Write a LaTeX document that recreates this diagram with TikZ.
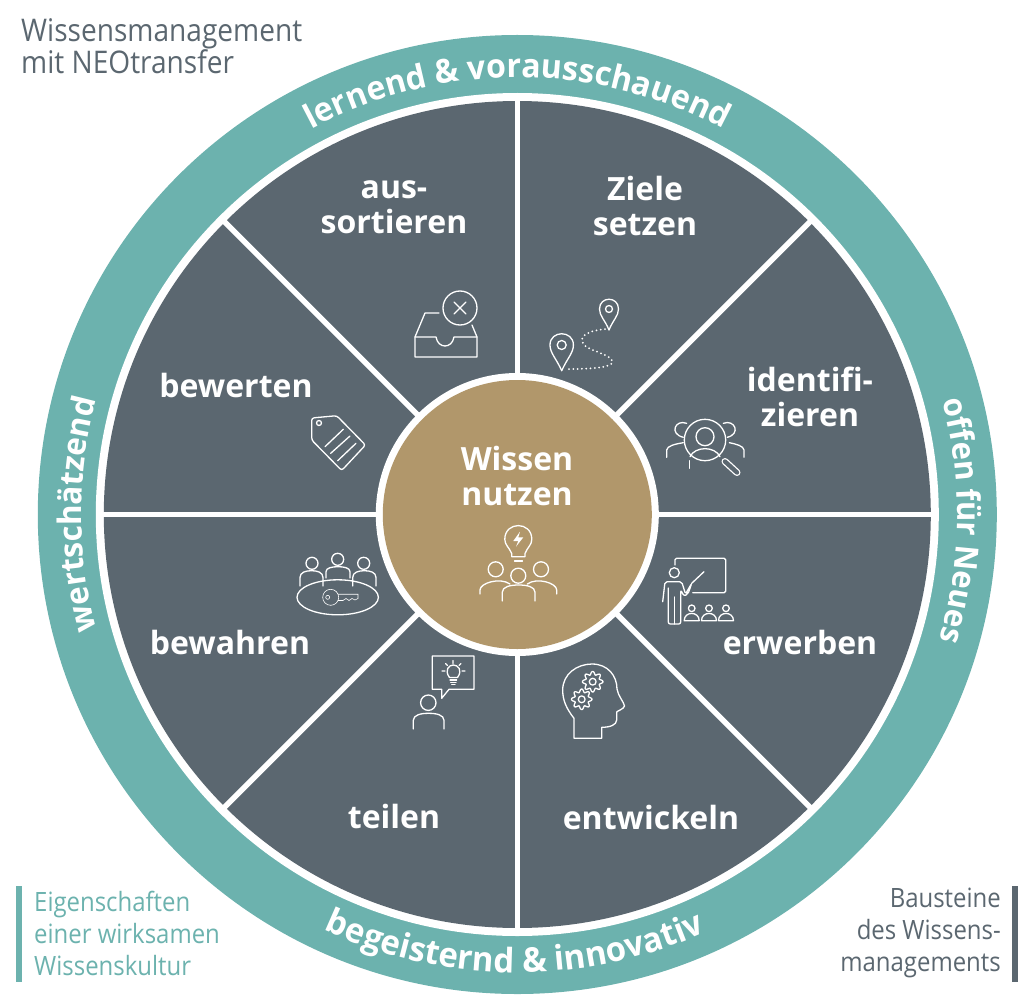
\documentclass[tikz,border=0pt]{standalone}
\usepackage{fontspec}
\setmainfont{Open Sans}
\newfontfamily\cornerfamily{Open Sans}[FakeStretch=0.9]
\newfontfamily\ringfamily{Open Sans}[FakeStretch=0.97]
\usetikzlibrary{decorations.text}

\definecolor{ringteal}{HTML}{6CB2AE}
\definecolor{slategray}{HTML}{5B6770}
\definecolor{hubtan}{HTML}{B1976B}

\newcommand{\wheelfont}{\fontsize{32}{35.5}\bfseries\selectfont}
\newcommand{\cornerfont}{\cornerfamily\fontsize{26.6}{32}\selectfont}
\newcommand{\titlefont}{\cornerfamily\fontsize{31.2}{32}\selectfont}

% shoulders: left x, right x, bottom y, top y
\newcommand{\shoulders}[4]{
    \draw[iconline] (#1,#3) -- (#1,{#4+(#3-#4)*0.45}) .. controls (#1,{#4+(#3-#4)*0.1}) and ({#1+(#2-#1)*0.25},#4) .. ({(#1+#2)/2},#4) .. controls ({#1+(#2-#1)*0.75},#4) and (#2,{#4+(#3-#4)*0.1}) .. (#2,{#4+(#3-#4)*0.45}) -- (#2,#3);
}
\newcommand{\gearicon}[2]{
    \draw[iconline] plot[domain=0:360,samples=97] ({#1+(8.7+1.6*cos(8*\x))*cos(\x)},{#2+(8.7+1.6*cos(8*\x))*sin(\x)}) -- cycle;
    \draw[iconline] (#1,#2) circle (3.4);
}
% ring text: start angle, end angle, radius, font size, text
\newcommand{\ringlabel}[5]{
    \path[decorate,decoration={text along path,text align=center,text={|\color{white}\ringfamily\fontsize{#4}{#4}\bfseries\selectfont|#5}}] (#1:#3) arc[start angle=#1,end angle=#2,radius=#3];
}

\tikzset{
    iconline/.style={draw=white,line width=1.3pt,line cap=round,line join=round},
    wheeltext/.style={text=white,align=center,font=\wheelfont,inner sep=0pt},
    spoke/.style={draw=white,line width=5.5pt}
}

\begin{document}
\begin{tikzpicture}[x=1pt,y=1pt]
    \useasboundingbox (-517.3,-487.5) rectangle (506.7,514.5);

    \fill[ringteal] (0,0) circle (479.5);
    \fill[white] (0,0) circle (421.5);
    \fill[slategray] (0,0) circle (413.5);
    \foreach \a in {0,45,...,135}
        \draw[spoke] (\a:418) -- (\a+180:418);
    \fill[white] (0,0) circle (141.5);
    \fill[hubtan] (0,0) circle (134.5);

    \ringlabel{150}{30}{437}{33.1}{lernend {\&} vorausschauend}
    \ringlabel{59.2}{-60.8}{440}{32}{offen für Neues}
    \ringlabel{211.65}{327.65}{458}{34}{begeisternd {\&} innovativ}
    \ringlabel{240}{120}{436}{32.3}{wertschätzend}

    \begin{scope}[shift={(-517.3,514.5)},y=-1pt]
        \node[wheeltext] (aussortieren) at (394,207) {aus-\\sortieren};
        \node[wheeltext] (zielesetzen) at (645,206) {Ziele\\setzen};
        \node[wheeltext] (identifizieren) at (810,397) {identifi-\\zieren};
        \node[wheeltext] (erwerben) at (800,642) {erwerben};
        \node[wheeltext] (entwickeln) at (651,817) {entwickeln};
        \node[wheeltext] (teilen) at (394,816) {teilen};
        \node[wheeltext] (bewahren) at (230,642) {bewahren};
        \node[wheeltext] (bewerten) at (236,385) {bewerten};
        \node[wheeltext] (wissennutzen) at (517,476) {Wissen\\nutzen};

        \node[text=slategray,align=left,anchor=west,font=\titlefont,inner sep=0pt] (titel) at (21,46) {Wissensmanagement\\mit NEOtransfer};
        \node[text=ringteal,align=left,anchor=west,font=\cornerfont,inner sep=0pt] (eigenschaften) at (34,933) {Eigenschaften\\einer wirksamen\\Wissenskultur};
        \node[text=slategray,align=right,anchor=east,font=\cornerfont,inner sep=0pt] (bausteine) at (1001,933) {Bausteine\\des Wissens-\\managements};
        \fill[ringteal] (16,886) rectangle (22,982);
        \fill[slategray] (1012,886) rectangle (1018,982);

        % aussortieren
        \draw[iconline] (460,308) circle (17);
        \draw[iconline] (454,302) -- (466,314) (466,302) -- (454,314);
        \draw[iconline] (439,313) -- (425,313) -- (415,337) -- (415,357) -- (477,357) -- (477,337) -- (472,325);
        \draw[iconline] (415,337) -- (436,337) .. controls (438,349) and (452,349) .. (454,337) -- (477,337);

        % ziele setzen
        \draw[iconline] (561.7,370.7) .. controls (556,358) and (550,353) .. (550,345) .. controls (550,330) and (573.4,330) .. (573.4,345) .. controls (573.4,353) and (567.4,358) .. (561.7,370.7);
        \draw[iconline] (561.7,345) circle (4.5);
        \draw[iconline] (609,330) .. controls (605,320) and (599.5,316) .. (599.5,309) .. controls (599.5,296) and (618.5,296) .. (618.5,309) .. controls (618.5,316) and (613,320) .. (609,330);
        \draw[iconline] (609,309) circle (3.5);
        \draw[iconline,dash pattern=on 0pt off 4.3pt,line width=2pt] (569,369) .. controls (600,369) and (618,366) .. (611,359) .. controls (605,352) and (582,350) .. (582,340) .. controls (582,333) and (595,330) .. (605,329);

        % identifizieren
        \draw[iconline] (705,440) circle (20.7);
        \draw[iconline] (705,436.7) circle (9);
        \draw[iconline] (690,456.7) .. controls (695,446) and (715,446) .. (720,456.7);
        \draw[white,line width=7pt,line cap=round] (725,461.5) -- (737,472.5);
        \draw[slategray,line width=4.4pt,line cap=round] (725,461.5) -- (737,472.5);
        \draw[iconline] (686.7,423.3) .. controls (675,419) and (669,434) .. (683.3,437.3);
        \draw[iconline] (723.3,423.3) .. controls (735,419) and (741,434) .. (727.3,437.3);
        \draw[iconline] (666.7,457.3) -- (666.7,450) .. controls (667,446) and (675,444) .. (683.3,442.7);
        \draw[iconline] (744,457.3) -- (744,450) .. controls (743.7,446) and (736,444) .. (729.3,442.7);
        \draw[iconline] (689.3,468.3) -- (689.3,460.7);

        % erwerben
        \draw[iconline,rounded corners=1.5pt] (675,565) -- (675,558.3) -- (725.7,558.3) -- (725.7,592.7) -- (692.7,592.7);
        \draw[iconline] (674.3,572.7) circle (5);
        \draw[iconline] (704,571.7) -- (691.7,583.3);
        \draw[iconline,rounded corners=2pt] (662.7,601.7) -- (665,581.7) -- (681.7,581.7) -- (685.5,594) -- (691.7,583.3) -- (688,594) -- (684,596) -- (680.7,590) -- (680.7,624) -- (668.3,624) -- (668.3,588);
        \draw[iconline] (674.3,597) -- (674.3,624);
        \foreach \px in {691.7,709,726} {
            \draw[iconline] (\px,608.3) circle (3.3);
            \draw[iconline] ({\px-7.5},620.7) .. controls ({\px-7.5},611) and ({\px+7.5},611) .. ({\px+7.5},620.7) -- cycle;
        }

        % entwickeln
        \draw[iconline] (574,738.3) -- (574,718.3) .. controls (566,708) and (562.7,700) .. (562.7,690) .. controls (562.7,674) and (577,664) .. (592,664) .. controls (608,664) and (617,676) .. (617,689) .. controls (618,696) and (624,702) .. (624.5,706) .. controls (624,709) and (617,711) .. (616.7,712) -- (616.7,720) .. controls (616.5,725) and (610,727.3) .. (601.7,727.3) -- (601.7,738.3) -- cycle;
        \gearicon{592.7}{681.7}
        \gearicon{581.7}{699.3}

        % teilen
        \draw[iconline] (441.7,689.3) -- (432.3,689.3) -- (432.3,656) -- (474,656) -- (474,689.3) -- (449,689.3) -- (441.7,698.3) -- cycle;
        \draw[iconline] (449.5,677.5) .. controls (444,670) and (449,665) .. (453.3,665) .. controls (458,665) and (463,670) .. (457.5,677.5) -- (449.5,677.5);
        \draw[iconline] (450,680) -- (456.6,680) (450.7,682.3) -- (456,682.3) (451.7,684.3) -- (455,684.3);
        \draw[iconline] (453,660.5) -- (453,663.5) (445.5,663.5) -- (447.5,665.5) (461,663.5) -- (459,665.5) (442,671) -- (445,671) (465,671) -- (462,671);
        \draw[iconline] (428.3,702.7) circle (7.7);
        \shoulders{413.3}{444}{729}{713.3}

        % bewahren
        \draw[iconline] (337.7,597.3) ellipse (40.7 and 17.5);
        \draw[iconline] (312,563.3) circle (6);
        \draw[iconline] (337.7,559.3) circle (6);
        \draw[iconline] (363.7,563.3) circle (6);
        \shoulders{300}{323}{586}{570.7}
        \shoulders{326}{350}{578}{566.7}
        \shoulders{352.7}{376}{586}{570.7}
        \draw[white,line width=0.6pt] (330.7,597.3) circle (8);
        \draw[white,line width=0.6pt] (327.7,597.3) circle (2);
        \draw[white,line width=0.6pt] (338,594.2) -- (358,594.2) -- (358,598.5) -- (355,600) -- (352,598.5) -- (349,600.5) -- (346,598.5) -- (343,600.5) -- (338,600.5);

        % bewerten
        \draw[iconline,rounded corners=2.5pt] (311.7,418) -- (336.7,415.7) -- (365.5,445) -- (341.7,470.5) -- (311.7,440) -- cycle;
        \draw[iconline] (319,423) circle (2.5);
        \draw[iconline] (325,446.7) -- (343.3,429.3) (330.7,453.3) -- (350,436) (337.7,460.7) -- (356,443.3);

        % wissen nutzen
        \draw[iconline] (511.7,556.7) -- (511.7,553.5) .. controls (509,547) and (504.8,545) .. (504.8,539.3) .. controls (504.8,521) and (531.8,521) .. (531.8,539.3) .. controls (531.8,545) and (527.6,547) .. (525,553.5) -- (525,556.7) -- cycle;
        \draw[iconline] (514.5,561) -- (522.5,561);
        \fill[white] (520,531.7) -- (513.3,541) -- (518.3,541) -- (516,546.7) -- (523.3,537.3) -- (518.3,537.3) -- cycle;
        \draw[iconline] (495.7,569.3) circle (7.5);
        \draw[iconline] (541,569.3) circle (7.5);
        \draw[iconline] (518.3,575.7) circle (7.5);
        \draw[iconline] (480,594) -- (480,590) .. controls (480,583) and (500,577) .. (510,584);
        \draw[iconline] (556.7,594) -- (556.7,590) .. controls (556.7,583) and (537,577) .. (527.3,584);
        \shoulders{502.3}{535}{601}{585}
    \end{scope}
\end{tikzpicture}
\end{document}
